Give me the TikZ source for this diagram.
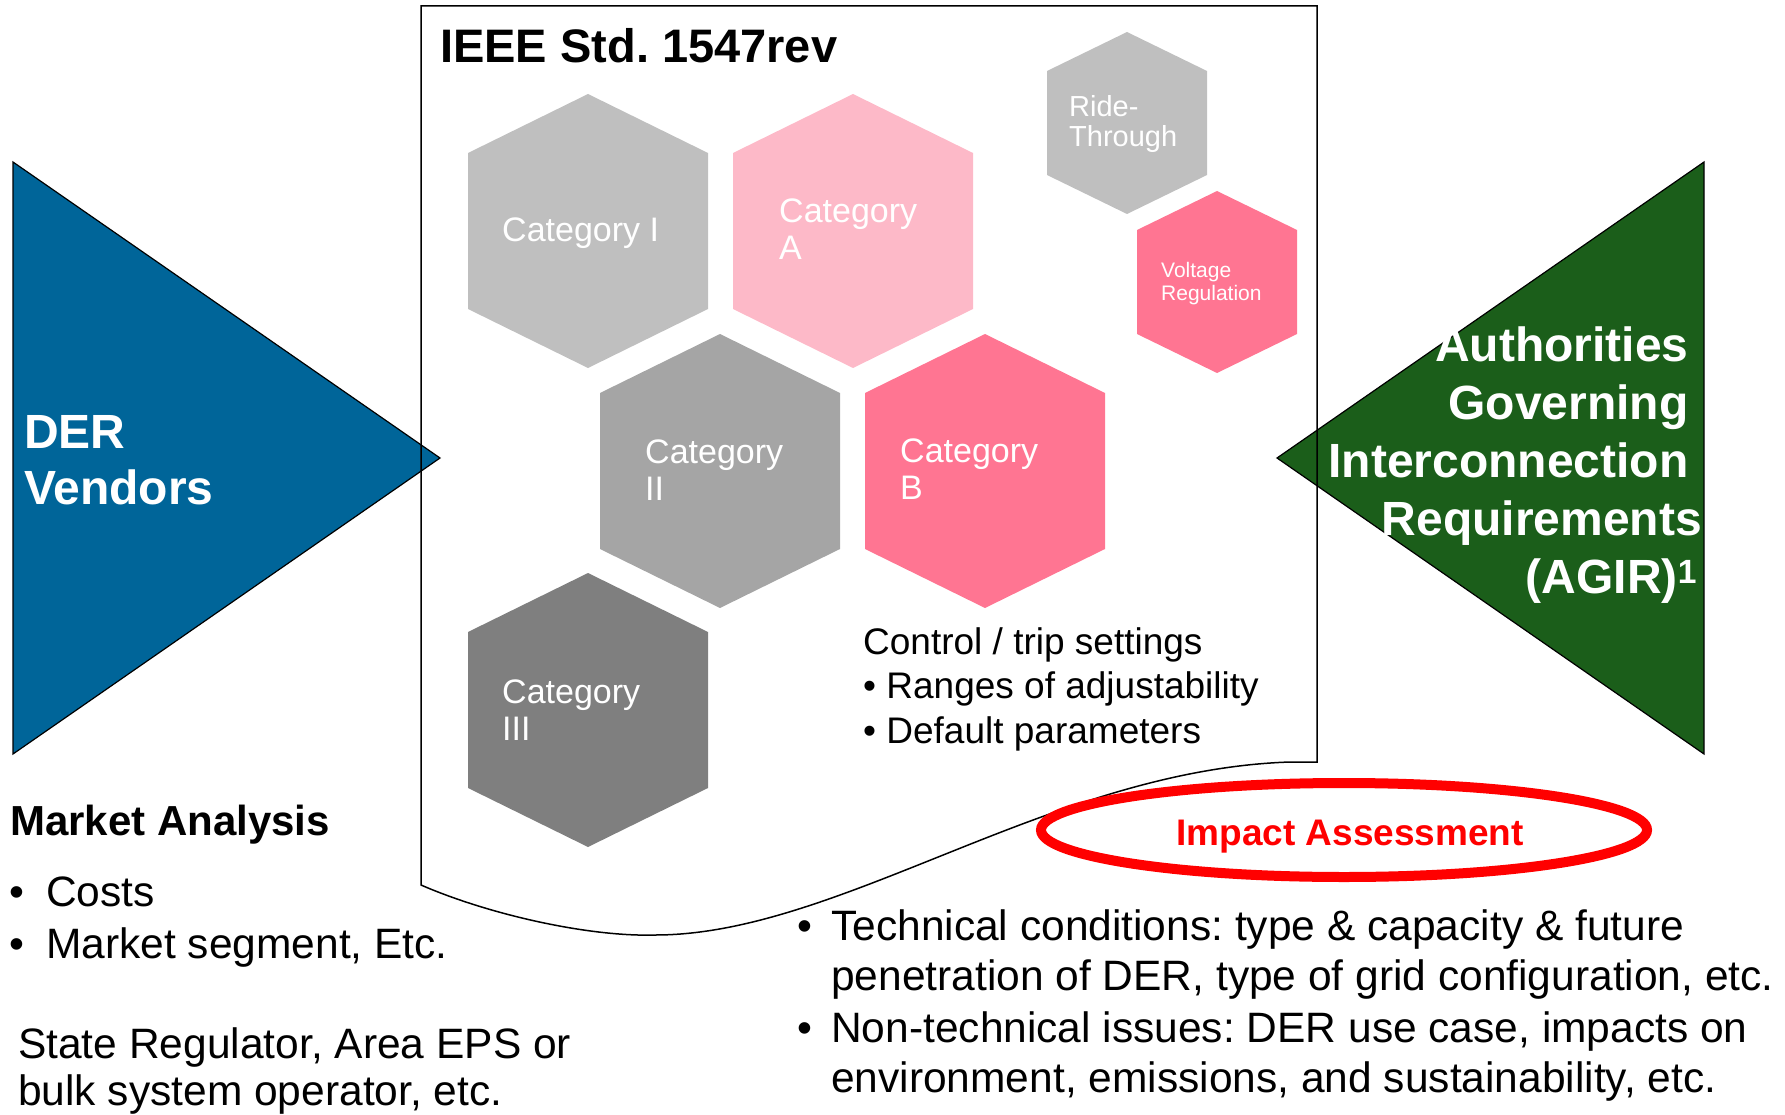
\documentclass[tikz,border=0pt]{standalone}
\usepackage{fontspec}
\setmainfont{Liberation Sans}
\usepackage{tikz}
\usetikzlibrary{calc}

\definecolor{derblue}{RGB}{0,101,153}
\definecolor{agirgreen}{RGB}{27,94,26}
\definecolor{hexgrayI}{RGB}{191,191,191}
\definecolor{hexgrayII}{RGB}{165,165,165}
\definecolor{hexgrayIII}{RGB}{127,127,127}
\definecolor{hexpinkA}{RGB}{253,185,200}
\definecolor{hexpinkB}{RGB}{255,117,146}

% multi-line nodes sit on the baseline of their last line
\tikzset{
  hexlabel/.style={text=white, align=left, anchor=base west, inner sep=0pt, font=\fontsize{34}{37}\selectfont},
  body/.style={anchor=base west, inner sep=0pt, align=left, font=\fontsize{42.5}{50}\selectfont},
  bighead/.style={inner sep=0pt, font=\bfseries\fontsize{48}{56}\selectfont},
}
\frenchspacing

\begin{document}
\begin{tikzpicture}[x=1pt,y=-1pt]
        \def\hw{120}
        \def\hh{137}
        \def\sh{78}
        \def\gap{\rule{.28em}{0pt}}
        \useasboundingbox (0,0) rectangle (1785,1115);
        % Draw the two triangles
        \filldraw[fill=derblue, draw=black, line width=1.2pt] (13,162) -- (440,458) -- (13,754) -- cycle;
        \filldraw[fill=agirgreen, draw=black, line width=1.2pt] (1704,162) -- (1277,458) -- (1704,754) -- cycle;
        % Draw the standard frame, wavy at the bottom
        \draw[line width=1.5pt] (421,6) -- (1317,6) -- (1317,762) -- (1290,762)
              .. controls (1050,770) and (840,935) .. (655,935)
              .. controls (590,937) and (490,915) .. (421,885) -- cycle;
        % big hexagons
        \foreach \cx/\cy/\col in {588/231/hexgrayI, 853/231/hexpinkA, 720/471/hexgrayII, 985/471/hexpinkB, 588/710/hexgrayIII}
          \fill[\col] (\cx,\cy-\hh) -- (\cx+\hw,\cy-\sh) -- (\cx+\hw,\cy+\sh) -- (\cx,\cy+\hh)
                -- (\cx-\hw,\cy+\sh) -- (\cx-\hw,\cy-\sh) -- cycle;
        % small hexagons
        \foreach \cx/\cy/\col in {1127/123/hexgrayI, 1217/282/hexpinkB}
          \fill[\col] (\cx,\cy-91) -- (\cx+80,\cy-52) -- (\cx+80,\cy+52) -- (\cx,\cy+91)
                -- (\cx-80,\cy+52) -- (\cx-80,\cy-52) -- cycle;
        % labels
        \node[bighead, font=\bfseries\fontsize{47}{56}\selectfont, anchor=base west] (title) at (440,63) {IEEE Std. 1547rev};
        \node[hexlabel] (catI) at (502,242) {Category I};
        \node[hexlabel] (catA) at (779,260) {Category\\A};
        \node[hexlabel] (catII) at (645,500) {Category\\II};
        \node[hexlabel] (catB) at (900,499) {Category\\B};
        \node[hexlabel] (catIII) at (502,740) {Category\\III};
        \node[hexlabel, font=\fontsize{29}{30}\selectfont] (ride) at (1069,147) {Ride-\\Through};
        \node[hexlabel, font=\fontsize{21}{22}\selectfont] (volt) at (1161,300) {Voltage\\Regulation};
        \node[body, font=\fontsize{37}{44.5}\selectfont] (trip) at (863,743)
              {Control / trip settings\\\textbullet{} Ranges of adjustability\\\textbullet{} Default parameters};
        \node[bighead, text=white, align=left, anchor=base west] (der) at (24,504) {DER\\Vendors};
        \node[bighead, font=\bfseries\fontsize{48}{58}\selectfont, text=white, align=right, anchor=base east] (agir) at (1702,593)
              {Authorities\gap\\Governing\gap\\Interconnection\gap\\Requirements\\(AGIR)\textsuperscript{1}\rule{.1em}{0pt}};
        % impact assessment
        \draw[red, line width=10pt] (1344,830) ellipse [x radius=303pt, y radius=47pt];
        \node[inner sep=0pt, anchor=base, text=red, font=\bfseries\fontsize{37}{44}\selectfont] (impact) at (1350,845) {Impact Assessment};
        % lists under the picture
        \node[body, font=\bfseries\fontsize{42}{50}\selectfont] (market) at (10,835) {Market Analysis};
        \node[body] (costsdot) at (9,906) {\textbullet};
        \node[body] (costs) at (46,906) {Costs};
        \node[body] (segdot) at (9,958) {\textbullet};
        \node[body] (seg) at (46,958) {Market segment, Etc.};
        \node[body, font=\fontsize{42.5}{47}\selectfont] (state) at (18,1105) {State Regulator, Area EPS or\\bulk system operator, etc.};
        \node[body] (techdot) at (797,940) {\textbullet};
        \node[body] (tech) at (831,990) {Technical conditions: type \& capacity \& future\\penetration of DER, type of grid configuration, etc.};
        \node[body] (nontechdot) at (797,1042) {\textbullet};
        \node[body] (nontech) at (831,1092) {Non-technical issues: DER use case, impacts on\\environment, emissions, and sustainability, etc.};
      \end{tikzpicture}
\end{document}
